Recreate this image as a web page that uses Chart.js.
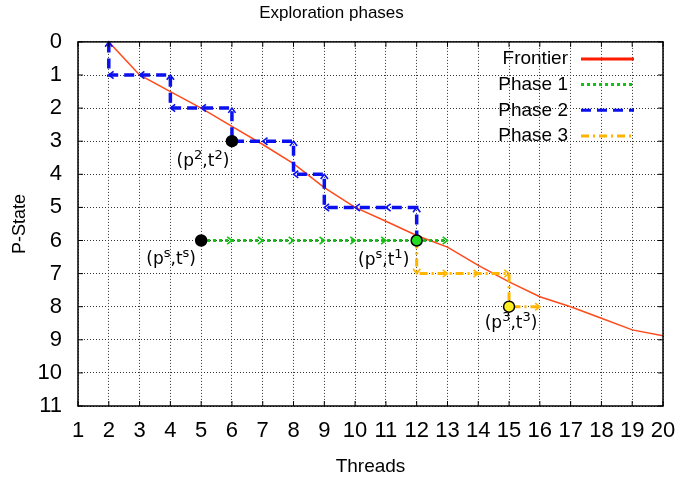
<!DOCTYPE html>
<html>
<head>
<meta charset="utf-8">
<script src="https://cdn.jsdelivr.net/npm/chart.js@4/dist/chart.umd.min.js"></script>
<style>
  html, body { margin: 0; padding: 0; background: #fff; }
</style>
</head>
<body>
<canvas id="chart" width="681" height="482"></canvas>
<script>
// values
const frontierThreads = [2, 3, 4, 5, 6, 7, 8, 9, 10, 11, 12, 13, 14, 15, 16, 17, 18, 19, 20];
const frontierPState = [0, 1, 1.5, 2, 2.55, 3.1, 3.68, 4.4, 5.0, 5.42, 5.85, 6.2, 6.75, 7.25, 7.7, 8.0, 8.35, 8.7, 8.88];

const phase1Threads = [5, 6, 7, 8, 9, 10, 11, 12, 13];
const phase1PState = [6, 6, 6, 6, 6, 6, 6, 6, 6];

const phase2Threads = [12, 12, 11, 10, 9, 9, 8, 8, 7, 6, 6, 5, 4, 4, 3, 2, 2];
const phase2PState = [6, 5, 5, 5, 5, 4, 4, 3, 3, 3, 2, 2, 2, 1, 1, 1, 0];

const phase3Threads = [12, 12, 13, 14, 15, 15, 16];
const phase3PState = [6, 7, 7, 7, 7, 8, 8];

const markerThreads = [5, 6, 12, 15];
const markerPState = [6, 3, 6, 8];
const markerLabels = ['(p^s,t^s)', '(p^2,t^2)', '(p^s,t^1)', '(p^3,t^3)'];

const seriesNames = ['Frontier', 'Phase 1', 'Phase 2', 'Phase 3'];

const toPoints = (xs, ys) => xs.map((v, i) => ({ x: v, y: ys[i] }));

// where each label sits relative to its dot, in pixels
const labelOffsets = [[-30, 19], [-29, 20], [-33, 20], [2, 17]];

Chart.defaults.font.family = "'Liberation Sans', Arial, sans-serif";
Chart.defaults.color = '#000';

function drawChevron(ctx, x0, y0, x1, y1) {
  const ang = Math.atan2(y1 - y0, x1 - x0);
  const len = 6, spread = 0.65;
  ctx.beginPath();
  ctx.moveTo(x1 - len * Math.cos(ang - spread), y1 - len * Math.sin(ang - spread));
  ctx.lineTo(x1, y1);
  ctx.lineTo(x1 - len * Math.cos(ang + spread), y1 - len * Math.sin(ang + spread));
  ctx.stroke();
}

function drawSupText(ctx, str, cx, cy) {
  const parts = str.split(/(\^.)/).filter(s => s.length);
  const mainFont = "17px 'DejaVu Sans', sans-serif";
  const supFont = "13px 'DejaVu Sans', sans-serif";
  let w = 0;
  parts.forEach(p => {
    ctx.font = p[0] === '^' ? supFont : mainFont;
    w += ctx.measureText(p[0] === '^' ? p.slice(1) : p).width;
  });
  let px = cx - w / 2;
  ctx.textAlign = 'left';
  ctx.textBaseline = 'middle';
  parts.forEach(p => {
    if (p[0] === '^') {
      ctx.font = supFont;
      ctx.fillText(p.slice(1), px, cy - 6);
      px += ctx.measureText(p.slice(1)).width;
    } else {
      ctx.font = mainFont;
      ctx.fillText(p, px, cy);
      px += ctx.measureText(p).width;
    }
  });
}

const overlay = {
  id: 'overlay',
  afterDatasetDraw(chart, args) {
    const ds = chart.data.datasets[args.index];
    if (!ds.arrows) return;
    const { ctx, scales: { x, y } } = chart;
    ctx.save();
    ctx.strokeStyle = ds.borderColor;
    ctx.lineWidth = 1.6;
    ctx.setLineDash([]);
    for (let k = 1; k < ds.data.length; k++) {
      const a = ds.data[k - 1], b = ds.data[k];
      drawChevron(ctx, x.getPixelForValue(a.x), y.getPixelForValue(a.y),
        x.getPixelForValue(b.x), y.getPixelForValue(b.y));
    }
    ctx.restore();
  },
  afterDraw(chart) {
    const { ctx, chartArea: a, scales: { x, y } } = chart;
    ctx.save();
    // frame and inward ticks
    ctx.setLineDash([]);
    ctx.strokeStyle = '#000';
    ctx.lineWidth = 1;
    ctx.beginPath();
    x.ticks.forEach(t => {
      const px = x.getPixelForValue(t.value);
      ctx.moveTo(px, a.bottom); ctx.lineTo(px, a.bottom - 5);
      ctx.moveTo(px, a.top); ctx.lineTo(px, a.top + 5);
    });
    y.ticks.forEach(t => {
      const py = y.getPixelForValue(t.value);
      ctx.moveTo(a.left, py); ctx.lineTo(a.left + 5, py);
      ctx.moveTo(a.right, py); ctx.lineTo(a.right - 5, py);
    });
    ctx.stroke();
    ctx.lineWidth = 1.5;
    ctx.strokeRect(a.left, a.top, a.right - a.left, a.bottom - a.top);

    // marker labels
    ctx.fillStyle = '#000';
    markerLabels.forEach((lab, i) => {
      const px = x.getPixelForValue(markerThreads[i]);
      const py = y.getPixelForValue(markerPState[i]);
      drawSupText(ctx, lab, px + labelOffsets[i][0], py + labelOffsets[i][1]);
    });

    // legend, top right inside the plot
    const textRight = a.right - 95, lineL = a.right - 82, lineR = a.right - 29;
    ctx.font = "19px 'Liberation Sans', Arial, sans-serif";
    ctx.textAlign = 'right';
    ctx.textBaseline = 'middle';
    seriesNames.forEach((name, i) => {
      const ds = chart.data.datasets.find(d => d.label === name);
      const ly = a.top + 17 + i * 25.7;
      ctx.fillStyle = '#000';
      ctx.fillText(name, textRight, ly);
      ctx.strokeStyle = ds.legendColor || ds.borderColor;
      ctx.lineWidth = 3;
      ctx.setLineDash(ds.borderDash || []);
      ctx.beginPath();
      ctx.moveTo(lineL, ly);
      ctx.lineTo(lineR, ly);
      ctx.stroke();
    });
    ctx.restore();
  }
};

new Chart(document.getElementById('chart'), {
  type: 'line',
  data: {
    datasets: [
      {
        label: 'Frontier',
        data: toPoints(frontierThreads, frontierPState),
        borderColor: '#ff4a1a',
        legendColor: '#ff1a00',
        borderWidth: 1.5,
        pointRadius: 0,
        order: 5
      },
      {
        label: 'Phase 1',
        data: toPoints(phase1Threads, phase1PState),
        borderColor: '#14c014',
        borderWidth: 3,
        borderDash: [3, 3],
        pointRadius: 0,
        arrows: true,
        order: 4
      },
      {
        label: 'Phase 2',
        data: toPoints(phase2Threads, phase2PState),
        borderColor: '#0a10ee',
        borderWidth: 3.5,
        borderDash: [10, 6],
        pointRadius: 0,
        arrows: true,
        order: 3
      },
      {
        label: 'Phase 3',
        data: toPoints(phase3Threads, phase3PState),
        borderColor: '#ffb400',
        borderWidth: 3,
        borderDash: [8, 4, 2, 4],
        pointRadius: 0,
        arrows: true,
        order: 2
      },
      {
        label: 'points',
        data: toPoints(markerThreads, markerPState),
        showLine: false,
        pointRadius: 5.5,
        pointBorderWidth: 1.5,
        pointBorderColor: '#000',
        pointBackgroundColor: ['#000', '#000', '#22dd22', '#ffee22'],
        order: 1
      }
    ]
  },
  plugins: [overlay],
  options: {
    responsive: false,
    animation: false,
    devicePixelRatio: 1,
    layout: { padding: { left: 0, right: 18, top: 0, bottom: 0 } },
    plugins: {
      legend: { display: false },
      tooltip: { enabled: false },
      title: {
        display: true,
        text: 'Exploration phases',
        font: { size: 17, weight: 'normal' },
        color: '#000',
        padding: { top: 3, bottom: 18.5 }
      }
    },
    scales: {
      x: {
        type: 'linear',
        min: 1,
        max: 20,
        afterFit: s => { s.height = 76; s.paddingLeft = 0; s.paddingRight = 0; },
        ticks: { stepSize: 1, autoSkip: false, maxRotation: 0, padding: 12, font: { size: 22 } },
        grid: { color: '#333', lineWidth: 1, drawTicks: false },
        border: { display: false, dash: [1, 2] },
        title: { display: true, text: 'Threads', font: { size: 19 }, padding: { top: 0, bottom: 4 } }
      },
      y: {
        type: 'linear',
        min: 0,
        max: 11,
        reverse: true,
        afterFit: s => { s.width = 78; },
        ticks: { stepSize: 1, autoSkip: false, padding: 16, font: { size: 22 } },
        grid: { color: '#333', lineWidth: 1, drawTicks: false },
        border: { display: false, dash: [1, 2] },
        title: { display: true, text: 'P-State', font: { size: 18 }, padding: { top: 9, bottom: 0 } }
      }
    }
  }
});
</script>
</body>
</html>
